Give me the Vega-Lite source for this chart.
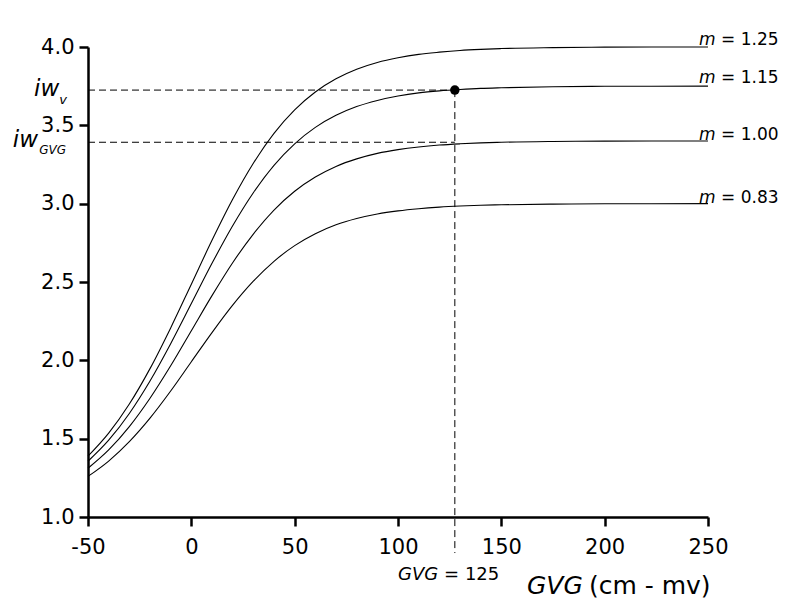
{
  "$schema": "https://vega.github.io/schema/vega-lite/v6.json",
  "width": 620,
  "height": 470,
  "autosize": {"type": "none"},
  "padding": {"left": 88, "top": 47, "right": 77, "bottom": 84},
  "background": "white",
  "config": {
    "view": {"stroke": null},
    "font": "DejaVu Sans",
    "text": {"font": "DejaVu Sans", "color": "black"}
  },
  "datasets": {
    "curves": [
      {"m":"1.25","x":-50,"y":1.388},{"m":"1.25","x":-40,"y":1.535},{"m":"1.25","x":-30,"y":1.721},{"m":"1.25","x":-20,"y":1.947},{"m":"1.25","x":-10,"y":2.207},{"m":"1.25","x":0,"y":2.486},{"m":"1.25","x":10,"y":2.766},{"m":"1.25","x":20,"y":3.028},{"m":"1.25","x":30,"y":3.258},{"m":"1.25","x":40,"y":3.449},{"m":"1.25","x":50,"y":3.599},{"m":"1.25","x":60,"y":3.713},{"m":"1.25","x":70,"y":3.797},{"m":"1.25","x":80,"y":3.858},{"m":"1.25","x":90,"y":3.901},{"m":"1.25","x":100,"y":3.931},{"m":"1.25","x":110,"y":3.953},{"m":"1.25","x":120,"y":3.967},{"m":"1.25","x":130,"y":3.978},{"m":"1.25","x":140,"y":3.985},{"m":"1.25","x":150,"y":3.990},{"m":"1.25","x":175,"y":3.996},{"m":"1.25","x":200,"y":3.999},{"m":"1.25","x":250,"y":4.000},
      {"m":"1.15","x":-50,"y":1.356},{"m":"1.15","x":-40,"y":1.490},{"m":"1.15","x":-30,"y":1.661},{"m":"1.15","x":-20,"y":1.868},{"m":"1.15","x":-10,"y":2.106},{"m":"1.15","x":0,"y":2.362},{"m":"1.15","x":10,"y":2.619},{"m":"1.15","x":20,"y":2.859},{"m":"1.15","x":30,"y":3.070},{"m":"1.15","x":40,"y":3.245},{"m":"1.15","x":50,"y":3.382},{"m":"1.15","x":60,"y":3.487},{"m":"1.15","x":70,"y":3.564},{"m":"1.15","x":80,"y":3.620},{"m":"1.15","x":90,"y":3.659},{"m":"1.15","x":100,"y":3.687},{"m":"1.15","x":110,"y":3.707},{"m":"1.15","x":120,"y":3.720},{"m":"1.15","x":130,"y":3.729},{"m":"1.15","x":140,"y":3.736},{"m":"1.15","x":150,"y":3.740},{"m":"1.15","x":175,"y":3.746},{"m":"1.15","x":200,"y":3.749},{"m":"1.15","x":250,"y":3.750},
      {"m":"1.00","x":-50,"y":1.311},{"m":"1.00","x":-40,"y":1.428},{"m":"1.00","x":-30,"y":1.577},{"m":"1.00","x":-20,"y":1.758},{"m":"1.00","x":-10,"y":1.965},{"m":"1.00","x":0,"y":2.189},{"m":"1.00","x":10,"y":2.413},{"m":"1.00","x":20,"y":2.623},{"m":"1.00","x":30,"y":2.806},{"m":"1.00","x":40,"y":2.959},{"m":"1.00","x":50,"y":3.079},{"m":"1.00","x":60,"y":3.170},{"m":"1.00","x":70,"y":3.238},{"m":"1.00","x":80,"y":3.286},{"m":"1.00","x":90,"y":3.321},{"m":"1.00","x":100,"y":3.345},{"m":"1.00","x":110,"y":3.362},{"m":"1.00","x":120,"y":3.374},{"m":"1.00","x":130,"y":3.382},{"m":"1.00","x":140,"y":3.388},{"m":"1.00","x":150,"y":3.392},{"m":"1.00","x":175,"y":3.397},{"m":"1.00","x":200,"y":3.399},{"m":"1.00","x":250,"y":3.400},
      {"m":"0.83","x":-50,"y":1.259},{"m":"0.83","x":-40,"y":1.357},{"m":"0.83","x":-30,"y":1.481},{"m":"0.83","x":-20,"y":1.631},{"m":"0.83","x":-10,"y":1.804},{"m":"0.83","x":0,"y":1.991},{"m":"0.83","x":10,"y":2.177},{"m":"0.83","x":20,"y":2.352},{"m":"0.83","x":30,"y":2.505},{"m":"0.83","x":40,"y":2.632},{"m":"0.83","x":50,"y":2.732},{"m":"0.83","x":60,"y":2.808},{"m":"0.83","x":70,"y":2.865},{"m":"0.83","x":80,"y":2.905},{"m":"0.83","x":90,"y":2.934},{"m":"0.83","x":100,"y":2.954},{"m":"0.83","x":110,"y":2.968},{"m":"0.83","x":120,"y":2.978},{"m":"0.83","x":130,"y":2.985},{"m":"0.83","x":140,"y":2.990},{"m":"0.83","x":150,"y":2.993},{"m":"0.83","x":175,"y":2.997},{"m":"0.83","x":200,"y":2.999},{"m":"0.83","x":250,"y":3.000}
    ],
    "hdash": [
      {"x": -50, "x2": 127.5, "y": 3.725},
      {"x": -50, "x2": 127.5, "y": 3.392}
    ],
    "vdash": [
      {"x": 127.5, "y": 3.725, "y2": 0.77}
    ],
    "dot": [
      {"x": 127.5, "y": 3.725}
    ],
    "mlab": [
      {"x": 245.6, "y": 4.015, "t": "m"},
      {"x": 245.6, "y": 3.768, "t": "m"},
      {"x": 245.6, "y": 3.406, "t": "m"},
      {"x": 245.6, "y": 3.006, "t": "m"}
    ],
    "mval": [
      {"x": 256.3, "y": 4.015, "t": "= 1.25"},
      {"x": 256.3, "y": 3.768, "t": "= 1.15"},
      {"x": 256.3, "y": 3.406, "t": "= 1.00"},
      {"x": 256.3, "y": 3.006, "t": "= 0.83"}
    ],
    "gvgsmall": [{"x": 100.0, "y": 0.598, "t": "GVG"}],
    "gvgval": [{"x": 122.3, "y": 0.598, "t": "= 125"}],
    "xtit1": [{"x": 162.4, "y": 0.5085, "t": "GVG"}],
    "xtit2": [{"x": 192.4, "y": 0.5085, "t": "(cm - mv)"}],
    "iw": [
      {"x": -76.1, "y": 3.687, "t": "iw"},
      {"x": -86.4, "y": 3.360, "t": "iw"}
    ],
    "subv": [{"x": -63.9, "y": 3.636, "t": "v"}],
    "subgvg": [{"x": -73.6, "y": 3.317, "t": "GVG"}]
  },
  "layer": [
    {
      "data": {"name": "curves"},
      "mark": {"type": "line", "color": "black", "strokeWidth": 1.1, "interpolate": "monotone"},
      "encoding": {
        "x": {
          "field": "x", "type": "quantitative",
          "scale": {"domain": [-50, 250], "nice": false, "zero": false},
          "axis": {
            "title": null,
            "values": [-50, 0, 50, 100, 150, 200, 250],
            "labelExpr": "toString(datum.value)",
            "grid": false,
            "tickSize": 9, "tickWidth": 2.5, "tickColor": "black",
            "domainWidth": 2.5, "domainColor": "black",
            "labelFont": "DejaVu Sans", "labelFontSize": 21, "labelColor": "black",
            "labelPadding": 10, "labelFlush": false, "labelOverlap": false
          }
        },
        "y": {
          "field": "y", "type": "quantitative",
          "scale": {"domain": [1, 4], "nice": false, "zero": false},
          "axis": {
            "title": "Vochtindicatie (-)",
            "titleAngle": 0, "titleAlign": "left", "titleBaseline": "alphabetic",
            "titleX": 0, "titleY": -15,
            "titleFont": "DejaVu Sans", "titleFontSize": 25, "titleFontWeight": "normal", "titleColor": "black",
            "values": [1, 1.5, 2, 2.5, 3, 3.5, 4],
            "format": ".1f",
            "grid": false,
            "tickSize": 9, "tickWidth": 2.5, "tickColor": "black",
            "domainWidth": 2.5, "domainColor": "black",
            "labelFont": "DejaVu Sans", "labelFontSize": 21, "labelColor": "black",
            "labelPadding": 5, "labelFlush": false, "labelOverlap": false
          }
        },
        "detail": {"field": "m", "type": "nominal"}
      }
    },
    {
      "data": {"name": "hdash"},
      "mark": {"type": "rule", "color": "black", "strokeWidth": 1, "strokeDash": [7, 4]},
      "encoding": {
        "x": {"field": "x", "type": "quantitative", "title": null, "scale": {"domain": [-50, 250], "nice": false, "zero": false}},
        "x2": {"field": "x2"},
        "y": {"field": "y", "type": "quantitative", "title": null, "scale": {"domain": [1, 4], "nice": false, "zero": false}}
      }
    },
    {
      "data": {"name": "vdash"},
      "mark": {"type": "rule", "color": "black", "strokeWidth": 1, "strokeDash": [7, 4]},
      "encoding": {
        "x": {"field": "x", "type": "quantitative", "title": null, "scale": {"domain": [-50, 250], "nice": false, "zero": false}},
        "y": {"field": "y", "type": "quantitative", "title": null, "scale": {"domain": [1, 4], "nice": false, "zero": false}},
        "y2": {"field": "y2"}
      }
    },
    {
      "data": {"name": "dot"},
      "mark": {"type": "point", "shape": "circle", "filled": true, "color": "black", "size": 90, "opacity": 1},
      "encoding": {
        "x": {"field": "x", "type": "quantitative", "title": null, "scale": {"domain": [-50, 250], "nice": false, "zero": false}},
        "y": {"field": "y", "type": "quantitative", "title": null, "scale": {"domain": [1, 4], "nice": false, "zero": false}}
      }
    },
    {
      "data": {"name": "mlab"},
      "mark": {"type": "text", "align": "left", "baseline": "alphabetic", "fontSize": 17, "fontStyle": "italic", "font": "DejaVu Sans"},
      "encoding": {
        "x": {"field": "x", "type": "quantitative", "title": null, "scale": {"domain": [-50, 250], "nice": false, "zero": false}},
        "y": {"field": "y", "type": "quantitative", "title": null, "scale": {"domain": [1, 4], "nice": false, "zero": false}},
        "text": {"field": "t"}
      }
    },
    {
      "data": {"name": "mval"},
      "mark": {"type": "text", "align": "left", "baseline": "alphabetic", "fontSize": 17, "font": "DejaVu Sans"},
      "encoding": {
        "x": {"field": "x", "type": "quantitative", "title": null, "scale": {"domain": [-50, 250], "nice": false, "zero": false}},
        "y": {"field": "y", "type": "quantitative", "title": null, "scale": {"domain": [1, 4], "nice": false, "zero": false}},
        "text": {"field": "t"}
      }
    },
    {
      "data": {"name": "gvgsmall"},
      "mark": {"type": "text", "align": "left", "baseline": "alphabetic", "fontSize": 18, "fontStyle": "italic", "font": "DejaVu Sans"},
      "encoding": {
        "x": {"field": "x", "type": "quantitative", "title": null, "scale": {"domain": [-50, 250], "nice": false, "zero": false}},
        "y": {"field": "y", "type": "quantitative", "title": null, "scale": {"domain": [1, 4], "nice": false, "zero": false}},
        "text": {"field": "t"}
      }
    },
    {
      "data": {"name": "gvgval"},
      "mark": {"type": "text", "align": "left", "baseline": "alphabetic", "fontSize": 18, "font": "DejaVu Sans"},
      "encoding": {
        "x": {"field": "x", "type": "quantitative", "title": null, "scale": {"domain": [-50, 250], "nice": false, "zero": false}},
        "y": {"field": "y", "type": "quantitative", "title": null, "scale": {"domain": [1, 4], "nice": false, "zero": false}},
        "text": {"field": "t"}
      }
    },
    {
      "data": {"name": "xtit1"},
      "mark": {"type": "text", "align": "left", "baseline": "alphabetic", "fontSize": 25, "fontStyle": "italic", "font": "DejaVu Sans"},
      "encoding": {
        "x": {"field": "x", "type": "quantitative", "title": null, "scale": {"domain": [-50, 250], "nice": false, "zero": false}},
        "y": {"field": "y", "type": "quantitative", "title": null, "scale": {"domain": [1, 4], "nice": false, "zero": false}},
        "text": {"field": "t"}
      }
    },
    {
      "data": {"name": "xtit2"},
      "mark": {"type": "text", "align": "left", "baseline": "alphabetic", "fontSize": 25, "font": "DejaVu Sans"},
      "encoding": {
        "x": {"field": "x", "type": "quantitative", "title": null, "scale": {"domain": [-50, 250], "nice": false, "zero": false}},
        "y": {"field": "y", "type": "quantitative", "title": null, "scale": {"domain": [1, 4], "nice": false, "zero": false}},
        "text": {"field": "t"}
      }
    },
    {
      "data": {"name": "iw"},
      "mark": {"type": "text", "align": "left", "baseline": "alphabetic", "fontSize": 23, "fontStyle": "italic", "font": "DejaVu Sans"},
      "encoding": {
        "x": {"field": "x", "type": "quantitative", "title": null, "scale": {"domain": [-50, 250], "nice": false, "zero": false}},
        "y": {"field": "y", "type": "quantitative", "title": null, "scale": {"domain": [1, 4], "nice": false, "zero": false}},
        "text": {"field": "t"}
      }
    },
    {
      "data": {"name": "subv"},
      "mark": {"type": "text", "align": "left", "baseline": "alphabetic", "fontSize": 13, "fontStyle": "italic", "font": "DejaVu Sans"},
      "encoding": {
        "x": {"field": "x", "type": "quantitative", "title": null, "scale": {"domain": [-50, 250], "nice": false, "zero": false}},
        "y": {"field": "y", "type": "quantitative", "title": null, "scale": {"domain": [1, 4], "nice": false, "zero": false}},
        "text": {"field": "t"}
      }
    },
    {
      "data": {"name": "subgvg"},
      "mark": {"type": "text", "align": "left", "baseline": "alphabetic", "fontSize": 12, "fontStyle": "italic", "font": "DejaVu Sans"},
      "encoding": {
        "x": {"field": "x", "type": "quantitative", "title": null, "scale": {"domain": [-50, 250], "nice": false, "zero": false}},
        "y": {"field": "y", "type": "quantitative", "title": null, "scale": {"domain": [1, 4], "nice": false, "zero": false}},
        "text": {"field": "t"}
      }
    }
  ]
}
